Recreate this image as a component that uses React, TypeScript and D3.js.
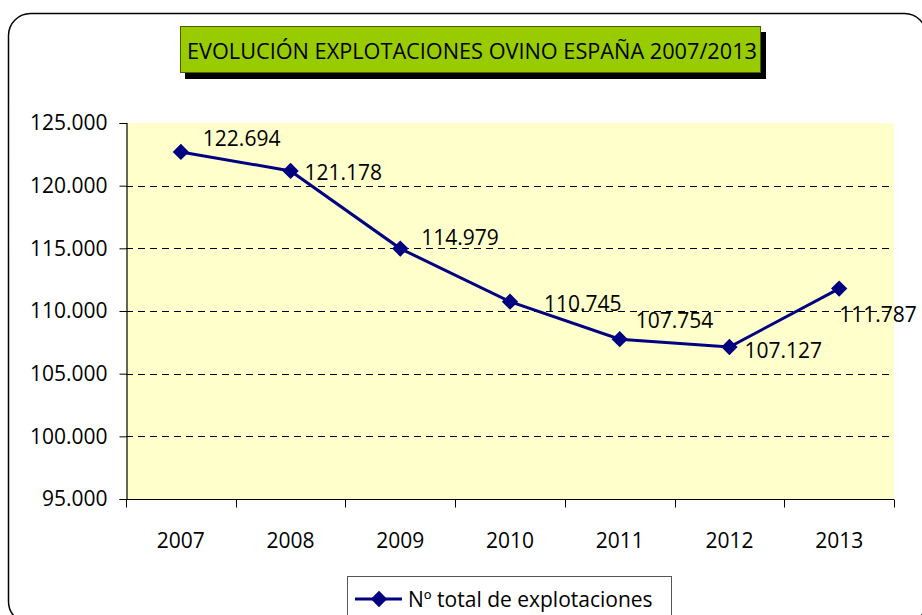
import { useEffect, useRef } from "react";
import * as d3 from "d3";

const years = ["2007", "2008", "2009", "2010", "2011", "2012", "2013"];
const explotaciones = [122694, 121178, 114979, 110745, 107754, 107127, 111787];
const yTicks = [95000, 100000, 105000, 110000, 115000, 120000, 125000];
const gridTicks = [100000, 105000, 110000, 115000, 120000];
// manual label nudges (dx from point to text start, dy to baseline), as placed in the original
const labelDx = [22, 14, 21, 34, 16, 15, 0];
const labelDy = [-6, 9, -4, 9, -11, 11, 33];

const title = "EVOLUCIÓN EXPLOTACIONES OVINO ESPAÑA 2007/2013";
const legendLabel = "Nº total de explotaciones";

const es = d3.formatLocale({
  decimal: ",",
  thousands: ".",
  grouping: [3],
  currency: ["", "€"],
});
const fmt = es.format(",.0f");

export default function App() {
  const ref = useRef<SVGSVGElement>(null);

  useEffect(() => {
    const svg = d3.select(ref.current);
    svg.selectAll("*").remove();

    const w = 922,
      h = 615,
      margin = { top: 123, right: 28, bottom: 116, left: 126 };
    const font = "'Open Sans', sans-serif";

    // outer chart frame
    svg
      .append("rect")
      .attr("x", 8.5)
      .attr("y", 13.5)
      .attr("width", 918)
      .attr("height", 610)
      .attr("rx", 22)
      .attr("fill", "white")
      .attr("stroke", "black")
      .attr("stroke-width", 1.5);

    const x = d3
      .scaleBand()
      .domain(years)
      .range([margin.left, w - margin.right]);

    const y = d3
      .scaleLinear()
      .domain([95000, 125000])
      .range([h - margin.bottom, margin.top]);

    // plot area
    svg
      .append("rect")
      .attr("x", margin.left)
      .attr("y", margin.top)
      .attr("width", w - margin.right - margin.left)
      .attr("height", h - margin.bottom - margin.top)
      .attr("fill", "#FFFFCC");

    svg
      .append("g")
      .selectAll("line")
      .data(gridTicks)
      .join("line")
      .attr("x1", margin.left)
      .attr("x2", w - margin.right)
      .attr("y1", (d) => Math.round(y(d)) + 0.5)
      .attr("y2", (d) => Math.round(y(d)) + 0.5)
      .attr("stroke", "#000")
      .attr("stroke-dasharray", "7,5");

    // y axis
    const yAxis = svg
      .append("g")
      .attr("transform", `translate(${margin.left + 0.5},0)`)
      .call(
        d3
          .axisLeft(y)
          .tickValues(yTicks)
          .tickSize(7)
          .tickPadding(12)
          .tickFormat((d) => fmt(d as number))
      );
    yAxis.select(".domain").attr("stroke", "#000").attr("stroke-width", 1.2);
    yAxis
      .selectAll("text")
      .attr("font-family", font)
      .attr("font-size", 21)
      .attr("fill", "#000");

    // x axis: ticks at category boundaries
    const xg = svg
      .append("g")
      .attr("transform", `translate(0,${h - margin.bottom + 0.5})`);
    xg.append("line")
      .attr("x1", margin.left)
      .attr("x2", w - margin.right)
      .attr("stroke", "#000")
      .attr("stroke-width", 1.2);
    const bounds = years.map((d) => x(d)!).concat([w - margin.right]);
    xg.selectAll("line.tick")
      .data(bounds)
      .join("line")
      .attr("class", "tick")
      .attr("x1", (d) => Math.round(d) + 0.5)
      .attr("x2", (d) => Math.round(d) + 0.5)
      .attr("y1", 0)
      .attr("y2", 8)
      .attr("stroke", "#000");
    xg.selectAll("text")
      .data(years)
      .join("text")
      .attr("x", (d) => x(d)! + x.bandwidth() / 2)
      .attr("y", 48)
      .attr("text-anchor", "middle")
      .attr("font-family", font)
      .attr("font-size", 21)
      .text((d) => d);

    // series
    const pts = years.map((d, i) => [x(d)! + x.bandwidth() / 2, y(explotaciones[i])] as [number, number]);
    svg
      .append("path")
      .attr("d", d3.line()(pts))
      .attr("fill", "none")
      .attr("stroke", "#000080")
      .attr("stroke-width", 3);

    const diamond = d3.symbol(d3.symbolDiamond2, 170);
    svg
      .append("g")
      .selectAll("path")
      .data(pts)
      .join("path")
      .attr("transform", (d) => `translate(${d[0]},${d[1]})`)
      .attr("d", diamond()!)
      .attr("fill", "#000080");

    svg
      .append("g")
      .selectAll("text")
      .data(pts)
      .join("text")
      .attr("x", (d, i) => d[0] + labelDx[i])
      .attr("y", (d, i) => d[1] + labelDy[i])
      .attr("font-family", font)
      .attr("font-size", 21)
      .text((d, i) => fmt(explotaciones[i]));

    // title
    svg
      .append("rect")
      .attr("x", 185)
      .attr("y", 32)
      .attr("width", 581)
      .attr("height", 47)
      .attr("fill", "#000");
    svg
      .append("rect")
      .attr("x", 180.5)
      .attr("y", 26.5)
      .attr("width", 580)
      .attr("height", 46)
      .attr("fill", "#99CC00")
      .attr("stroke", "#4a6000")
      .attr("stroke-width", 1);
    svg
      .append("text")
      .attr("x", 187)
      .attr("y", 59)
      .attr("font-family", font)
      .attr("font-size", 22)
      .attr("textLength", 570)
      .attr("lengthAdjust", "spacingAndGlyphs")
      .text(title);

    // legend
    const lg = svg.append("g");
    lg.append("rect")
      .attr("x", 347.5)
      .attr("y", 576.5)
      .attr("width", 324)
      .attr("height", 50)
      .attr("fill", "white")
      .attr("stroke", "#555");
    lg.append("line")
      .attr("x1", 355)
      .attr("x2", 402)
      .attr("y1", 599)
      .attr("y2", 599)
      .attr("stroke", "#000080")
      .attr("stroke-width", 3);
    lg.append("path")
      .attr("transform", "translate(379,599)")
      .attr("d", diamond()!)
      .attr("fill", "#000080");
    lg.append("text")
      .attr("x", 408)
      .attr("y", 607)
      .attr("font-family", font)
      .attr("font-size", 21)
      .text(legendLabel);
  }, []);

  return (
    <div style={{ position: "absolute", left: 0, top: 0 }}>
      <svg ref={ref} width={922} height={615} style={{ display: "block" }} />
    </div>
  );
}
